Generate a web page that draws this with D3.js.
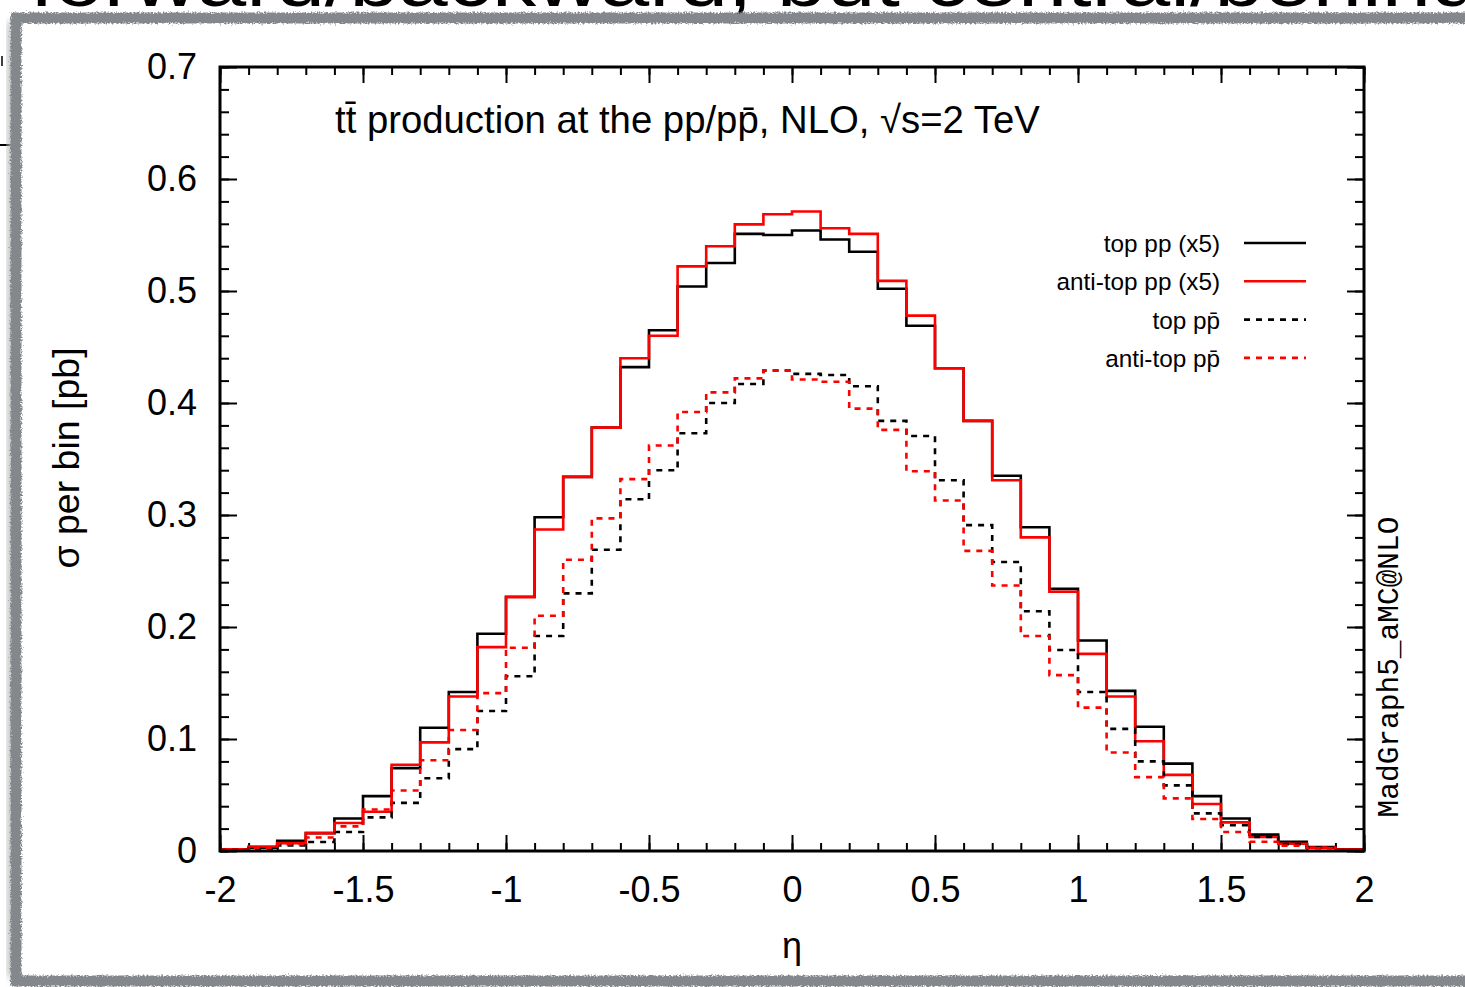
<!DOCTYPE html>
<html>
<head>
<meta charset="utf-8">
<script src="https://cdn.jsdelivr.net/npm/d3@7"></script>
<style>
  html, body { margin: 0; padding: 0; background: #fff; }
  svg { display: block; }
</style>
</head>
<body>
<svg id="chart" width="1465" height="987"></svg>
<script>
// eta bins, width 0.1, lower edges
const etaLow = [-2.0, -1.9, -1.8, -1.7, -1.6, -1.5, -1.4, -1.3, -1.2, -1.1,
                -1.0, -0.9, -0.8, -0.7, -0.6, -0.5, -0.4, -0.3, -0.2, -0.1,
                 0.0,  0.1,  0.2,  0.3,  0.4,  0.5,  0.6,  0.7,  0.8,  0.9,
                 1.0,  1.1,  1.2,  1.3,  1.4,  1.5,  1.6,  1.7,  1.8,  1.9];
const BIN_W = 0.1;

// sigma per bin [pb]
const topPP = [0.0015, 0.003, 0.009, 0.016, 0.029, 0.049, 0.074, 0.110, 0.142, 0.194,
               0.227, 0.298, 0.334, 0.378, 0.432, 0.465, 0.504, 0.525, 0.551, 0.550,
               0.554, 0.546, 0.535, 0.502, 0.469, 0.431, 0.384, 0.335, 0.289, 0.234,
               0.188, 0.143, 0.111, 0.078, 0.049, 0.029, 0.0146, 0.0083, 0.0035, 0.0015];
const antiTopPP = [0.0015, 0.004, 0.007, 0.016, 0.025, 0.035, 0.077, 0.097, 0.138, 0.182,
                   0.2265, 0.287, 0.334, 0.378, 0.440, 0.460, 0.522, 0.540, 0.5595, 0.5685,
                   0.571, 0.556, 0.551, 0.509, 0.478, 0.431, 0.384, 0.331, 0.280, 0.2315,
                   0.176, 0.138, 0.098, 0.068, 0.042, 0.0256, 0.0125, 0.0065, 0.003, 0.0012];
const topPPbar = [0.001, 0.002, 0.005, 0.008, 0.017, 0.030, 0.043, 0.065, 0.091, 0.125,
                  0.156, 0.192, 0.230, 0.269, 0.314, 0.340, 0.373, 0.400, 0.417, 0.429,
                  0.426, 0.425, 0.415, 0.384, 0.3705, 0.331, 0.291, 0.258, 0.214, 0.1795,
                  0.142, 0.109, 0.080, 0.0586, 0.0336, 0.023, 0.0125, 0.006, 0.003, 0.001];
const antiTopPPbar = [0.001, 0.003, 0.006, 0.012, 0.022, 0.037, 0.054, 0.081, 0.108, 0.141,
                      0.1815, 0.210, 0.260, 0.297, 0.332, 0.362, 0.392, 0.4095, 0.422, 0.429,
                      0.421, 0.419, 0.395, 0.376, 0.339, 0.313, 0.268, 0.237, 0.192, 0.157,
                      0.128, 0.088, 0.066, 0.047, 0.0286, 0.017, 0.0083, 0.0048, 0.0025, 0.001];

const xTicks = [-2, -1.5, -1, -0.5, 0, 0.5, 1, 1.5, 2];
const yTicks = [0, 0.1, 0.2, 0.3, 0.4, 0.5, 0.6, 0.7];

const series = [
  { label: "top pp (x5)",        values: topPP,        color: "#000000", dash: null },
  { label: "anti-top pp (x5)",   values: antiTopPP,    color: "#ff0000", dash: null },
  { label: "top pp\u0304",       values: topPPbar,     color: "#000000", dash: "6,6" },
  { label: "anti-top pp\u0304",  values: antiTopPPbar, color: "#ff0000", dash: "6,6" },
];

const W = 1465, H = 987;
const PLOT = { left: 220, right: 1364, top: 67, bottom: 851 };
const FONT = "'Liberation Sans', Arial, Helvetica, sans-serif";

const svg = d3.select("#chart");

// slide frame
const defs = svg.append("defs");
const rough = defs.append("filter").attr("id", "rough")
  .attr("x", "-5%").attr("y", "-5%").attr("width", "110%").attr("height", "110%");
rough.append("feTurbulence").attr("type", "fractalNoise").attr("baseFrequency", "0.6")
  .attr("numOctaves", 2).attr("seed", 3).attr("result", "noise");
rough.append("feDisplacementMap").attr("in", "SourceGraphic").attr("in2", "noise")
  .attr("scale", 5).attr("xChannelSelector", "R").attr("yChannelSelector", "G");
const blur = defs.append("filter").attr("id", "shadow")
  .attr("x", "-10%").attr("y", "-10%").attr("width", "120%").attr("height", "120%");
blur.append("feGaussianBlur").attr("stdDeviation", 4);

svg.append("rect").attr("width", W).attr("height", H).attr("fill", "#fff");

// slide text behind the picture, cut off by the top edge (as in the source slide)
svg.append("text").attr("x", 30).attr("y", 6)
  .attr("font-family", FONT).attr("font-size", 74).attr("fill", "#000")
  .attr("textLength", 1450).attr("lengthAdjust", "spacingAndGlyphs")
  .text("forward/backward, but central/behind");
svg.append("line").attr("x1", 0).attr("x2", 12).attr("y1", 145).attr("y2", 145)
  .attr("stroke", "#000").attr("stroke-width", 2);
svg.append("line").attr("x1", 2).attr("x2", 2).attr("y1", 56).attr("y2", 66)
  .attr("stroke", "#000").attr("stroke-width", 1.5);

svg.append("rect").attr("x", 8).attr("y", 22).attr("width", 20).attr("height", 955)
  .attr("fill", "#b9b9b9").attr("filter", "url(#shadow)");
svg.append("rect").attr("x", 16).attr("y", 18).attr("width", 1490).attr("height", 963)
  .attr("fill", "#fff").attr("stroke", "#84878b").attr("stroke-width", 11)
  .attr("filter", "url(#rough)");

// scales
const x = d3.scaleLinear().domain([-2, 2]).range([PLOT.left, PLOT.right]);
const y = d3.scaleLinear().domain([0, 0.7]).range([PLOT.bottom, PLOT.top]);

const g = svg.append("g");

function styleAxis(ax, labels) {
  ax.select(".domain").remove();
  ax.selectAll(".tick line").attr("stroke", "#000").attr("stroke-width", 2);
  if (!labels) ax.selectAll(".tick text").remove();
  else ax.selectAll(".tick text").attr("font-family", FONT).attr("font-size", 36).attr("fill", "#000");
}

const xMinor = d3.range(-20, 21).map(i => i / 10);
const yMinor = d3.range(0, 36).map(i => i / 50);
const plainFmt = d => String(d);   // hyphen minus, like gnuplot

// minor ticks
g.append("g").attr("transform", `translate(0,${PLOT.bottom})`)
  .call(d3.axisBottom(x).tickValues(xMinor).tickSize(-8)).call(a => styleAxis(a, false));
g.append("g").attr("transform", `translate(0,${PLOT.top})`)
  .call(d3.axisTop(x).tickValues(xMinor).tickSize(-8)).call(a => styleAxis(a, false));
g.append("g").attr("transform", `translate(${PLOT.left},0)`)
  .call(d3.axisLeft(y).tickValues(yMinor).tickSize(-9)).call(a => styleAxis(a, false));
g.append("g").attr("transform", `translate(${PLOT.right},0)`)
  .call(d3.axisRight(y).tickValues(yMinor).tickSize(-9)).call(a => styleAxis(a, false));

// major ticks + labels
g.append("g").attr("transform", `translate(0,${PLOT.bottom})`)
  .call(d3.axisBottom(x).tickValues(xTicks).tickSize(-16).tickPadding(25).tickFormat(plainFmt))
  .call(a => styleAxis(a, true));
g.append("g").attr("transform", `translate(0,${PLOT.top})`)
  .call(d3.axisTop(x).tickValues(xTicks).tickSize(-16)).call(a => styleAxis(a, false));
g.append("g").attr("transform", `translate(${PLOT.left},0)`)
  .call(d3.axisLeft(y).tickValues(yTicks).tickSize(-17).tickPadding(23).tickFormat(plainFmt))
  .call(a => styleAxis(a, true));
g.append("g").attr("transform", `translate(${PLOT.right},0)`)
  .call(d3.axisRight(y).tickValues(yTicks).tickSize(-17)).call(a => styleAxis(a, false));

// histograms
const stepLine = d3.line().x(d => x(d[0])).y(d => y(d[1])).curve(d3.curveStepAfter);
const clip = defs.append("clipPath").attr("id", "plotclip");
clip.append("rect").attr("x", PLOT.left).attr("y", PLOT.top)
  .attr("width", PLOT.right - PLOT.left).attr("height", PLOT.bottom - PLOT.top);

for (const s of series) {
  const pts = etaLow.map((e, k) => [e, s.values[k]]);
  pts.push([etaLow[etaLow.length - 1] + BIN_W, s.values[s.values.length - 1]]);
  g.append("path").datum(pts)
    .attr("d", stepLine).attr("fill", "none")
    .attr("stroke", s.color).attr("stroke-width", 2.6)
    .attr("stroke-dasharray", s.dash)
    .attr("clip-path", "url(#plotclip)");
}

// frame
g.append("rect").attr("x", PLOT.left).attr("y", PLOT.top)
  .attr("width", PLOT.right - PLOT.left).attr("height", PLOT.bottom - PLOT.top)
  .attr("fill", "none").attr("stroke", "#000").attr("stroke-width", 3);

// legend
const leg = g.append("g");
series.forEach((s, i) => {
  const ly = 243 + i * 38.3;
  leg.append("text").attr("x", 1220).attr("y", ly + 9)
    .attr("text-anchor", "end").attr("font-family", FONT).attr("font-size", 24.3)
    .attr("fill", "#000").text(s.label);
  leg.append("line").attr("x1", 1244).attr("x2", 1306).attr("y1", ly).attr("y2", ly)
    .attr("stroke", s.color).attr("stroke-width", 2.6).attr("stroke-dasharray", s.dash);
});

// title
g.append("text").attr("x", 335).attr("y", 133)
  .attr("font-family", FONT).attr("font-size", 38.3).attr("fill", "#000")
  .text("tt\u0304 production at the pp/pp\u0304, NLO, \u221As=2 TeV");

// axis labels
g.append("text").attr("transform", "translate(79,458) rotate(-90)")
  .attr("text-anchor", "middle").attr("font-family", FONT).attr("font-size", 37.5)
  .attr("fill", "#000").text("\u03C3 per bin [pb]");
g.append("text").attr("x", 792).attr("y", 958)
  .attr("text-anchor", "middle").attr("font-family", FONT).attr("font-size", 36)
  .attr("fill", "#000").text("\u03B7");

// generator tag
g.append("text").attr("transform", "translate(1398,667) rotate(-90)")
  .attr("text-anchor", "middle").attr("font-family", "'Liberation Mono', 'Courier New', monospace")
  .attr("font-size", 29.5).attr("fill", "#000").text("MadGraph5_aMC@NLO");
</script>
</body>
</html>
